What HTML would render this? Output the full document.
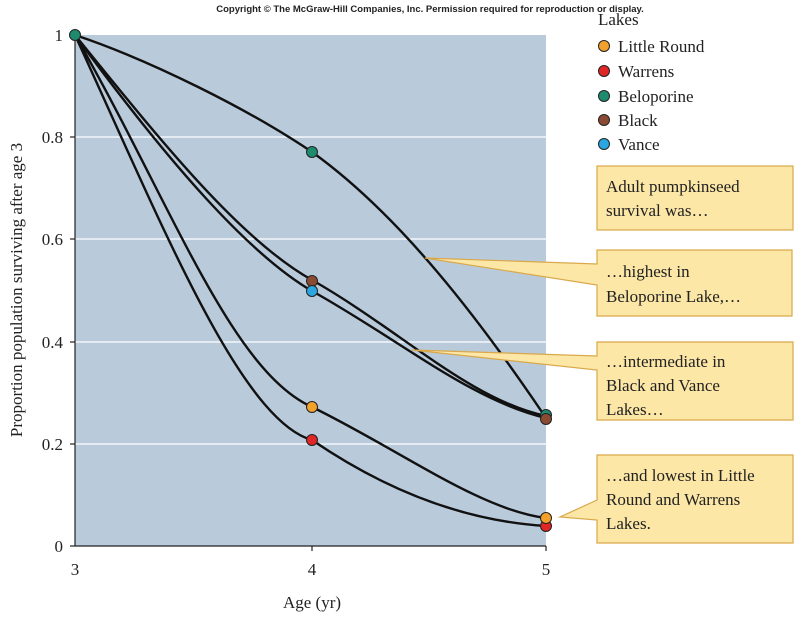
<!DOCTYPE html>
<html><head><meta charset="utf-8"><style>
body{margin:0;background:#fff;width:798px;height:614px;overflow:hidden}
svg{font-family:"Liberation Serif",serif}
</style></head><body>
<svg width="798" height="614" viewBox="0 0 798 614">
<text x="430" y="12" font-family="Liberation Sans" font-weight="bold" font-size="9.5" text-anchor="middle" fill="#222">Copyright © The McGraw-Hill Companies, Inc. Permission required for reproduction or display.</text>
<rect x="75" y="35" width="471" height="511" fill="#b9cadb"/>
<g stroke="#fff" stroke-width="1.2">
<line x1="75" y1="137" x2="546" y2="137"/><line x1="75" y1="239" x2="546" y2="239"/>
<line x1="75" y1="342" x2="546" y2="342"/><line x1="75" y1="444" x2="546" y2="444"/>
</g>
<g stroke="#222" stroke-width="1.2">
<line x1="75" y1="35" x2="75" y2="546"/><line x1="75" y1="546" x2="546" y2="546"/>
<line x1="70" y1="35" x2="75" y2="35"/><line x1="70" y1="137" x2="75" y2="137"/><line x1="70" y1="239" x2="75" y2="239"/><line x1="70" y1="342" x2="75" y2="342"/><line x1="70" y1="444" x2="75" y2="444"/><line x1="70" y1="546" x2="75" y2="546"/>
<line x1="312" y1="546" x2="312" y2="551"/><line x1="546" y1="546" x2="546" y2="551"/>
</g>
<g font-size="17" fill="#222" text-anchor="end">
<text x="63" y="41">1</text><text x="63" y="143">0.8</text><text x="63" y="245">0.6</text><text x="63" y="348">0.4</text><text x="63" y="450">0.2</text><text x="63" y="552">0</text>
</g>
<g font-size="17" fill="#222" text-anchor="middle">
<text x="75" y="575">3</text><text x="312" y="575">4</text><text x="546" y="575">5</text>
<text x="312" y="608">Age (yr)</text>
</g>
<text transform="translate(22,290) rotate(-90)" font-size="17" fill="#222" text-anchor="middle">Proportion population surviving after age 3</text>
<g fill="none" stroke="#111" stroke-width="2.4">
<path d="M75,35 C150,60 250,110 312,152 C400,215 480,320 546,418"/>
<path d="M75,35 C160,140 240,240 312,280 C400,330 470,400 546,416"/>
<path d="M75,35 C170,165 250,255 312,291 C400,340 470,400 546,418"/>
<path d="M75,35 C170,200 230,370 312,407 C400,450 480,510 546,518"/>
<path d="M75,35 C160,220 240,420 312,440 C400,500 480,522 546,526"/>
</g>
<g stroke="#222" stroke-width="1">
<circle cx="75" cy="35" r="5.5" fill="#1e8a6e"/>
<circle cx="312" cy="152" r="5.5" fill="#1e8a6e"/>
<circle cx="312" cy="281" r="5.5" fill="#8b4a32"/>
<circle cx="312" cy="291" r="5.5" fill="#2aa6e0"/>
<circle cx="312" cy="407" r="5.5" fill="#f2a12a"/>
<circle cx="312" cy="440" r="5.5" fill="#e02626"/>
<circle cx="546" cy="415" r="5.5" fill="#1e8a6e"/>
<circle cx="546" cy="419" r="5.5" fill="#8b4a32"/>
<circle cx="546" cy="526" r="5.5" fill="#e02626"/>
<circle cx="546" cy="518" r="5.5" fill="#f2a12a"/>
</g>
<text x="598" y="25" font-size="17" fill="#222">Lakes</text>
<g font-size="17" fill="#222" stroke="#222" stroke-width="1">
<circle cx="604" cy="46" r="5.5" fill="#f2a12a"/><text x="618" y="52" stroke="none">Little Round</text>
<circle cx="604" cy="71" r="5.5" fill="#e02626"/><text x="618" y="77" stroke="none">Warrens</text>
<circle cx="604" cy="96" r="5.5" fill="#1e8a6e"/><text x="618" y="102" stroke="none">Beloporine</text>
<circle cx="604" cy="120" r="5.5" fill="#8b4a32"/><text x="618" y="126" stroke="none">Black</text>
<circle cx="604" cy="144" r="5.5" fill="#2aa6e0"/><text x="618" y="150" stroke="none">Vance</text>
</g>
<g fill="#fce7a6" stroke="#d9a84a" stroke-width="1.2">
<rect x="597" y="166" width="196" height="64"/>
<path d="M597,250 H792 V316 H597 V285 L425,258 L597,264 Z"/>
<path d="M597,342 H793 V420 H597 V370 L412,350 L597,356 Z"/>
<path d="M597,455 H793 V543 H597 V520 L560,517 L597,500 Z"/>
</g>
<g font-size="17" fill="#222">
<text x="606" y="192">Adult pumpkinseed</text><text x="606" y="216">survival was…</text>
<text x="606" y="277">…highest in</text><text x="606" y="302">Beloporine Lake,…</text>
<text x="606" y="367">…intermediate in</text><text x="606" y="391">Black and Vance</text><text x="606" y="415">Lakes…</text>
<text x="606" y="481">…and lowest in Little</text><text x="606" y="505">Round and Warrens</text><text x="606" y="529">Lakes.</text>
</g>
</svg>
</body></html>
